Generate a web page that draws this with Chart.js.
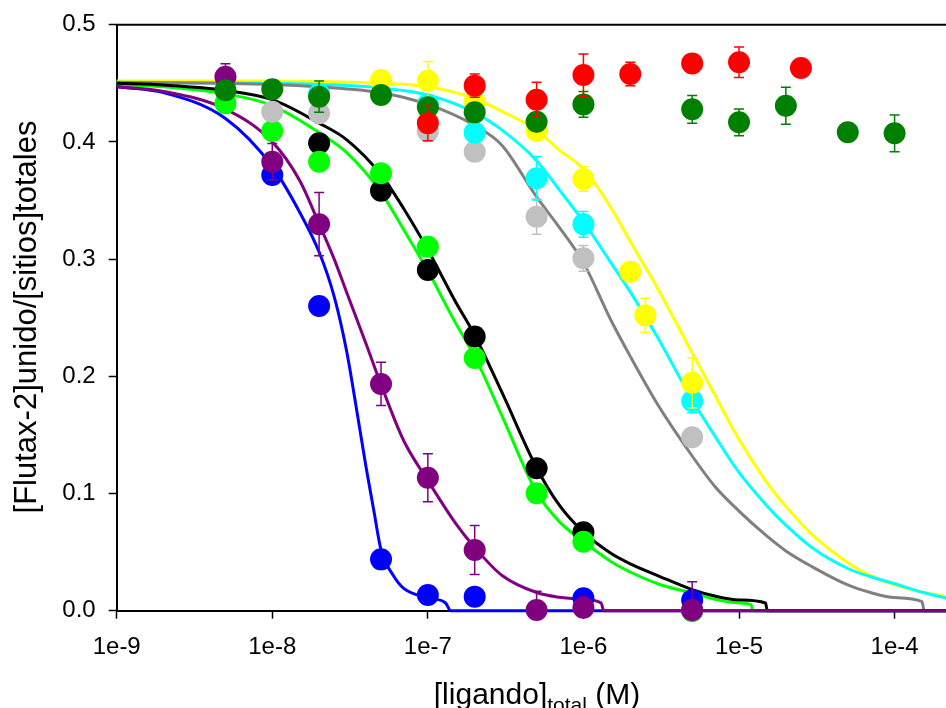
<!DOCTYPE html>
<html><head><meta charset="utf-8">
<script src="https://cdn.jsdelivr.net/npm/chart.js@4.4.0/dist/chart.umd.min.js"></script>
<style>html,body{margin:0;padding:0;background:#fff;overflow:hidden}#wrap{width:946px;height:708px;position:relative}</style>
</head><body><div id="wrap"><canvas id="c" width="946" height="708"></canvas></div>
<script>
// ---- tick labels ----
const xTickValues = [1e-9, 1e-8, 1e-7, 1e-6, 1e-5, 1e-4];
const xTickLabels = ['1e-9', '1e-8', '1e-7', '1e-6', '1e-5', '1e-4'];
const yTickValues = [0, 0.1, 0.2, 0.3, 0.4, 0.5];
const yTickLabels = ['0.0', '0.1', '0.2', '0.3', '0.4', '0.5'];
const yTitle = '[Flutax-2]unido/[sitios]totales';
const xTitleMain = '[ligando]';
const xTitleSub = 'total';
const xTitleEnd = ' (M)';

// ---- measured points ----
const redX = [1e-7, 2e-7, 5e-7, 1e-6, 2e-6, 5e-6, 1e-5, 2.5e-5];
const redY = [0.416, 0.448, 0.436, 0.457, 0.458, 0.467, 0.468, 0.463];
const redErr = [0.015, 0.010, 0.015, 0.018, 0.010, 0.006, 0.013, 0.0];

const dkgreenX = [5e-9, 1e-8, 2e-8, 5e-8, 1e-7, 2e-7, 5e-7, 1e-6, 5e-6, 1e-5, 2e-5, 5e-5, 1e-4];
const dkgreenY = [0.444, 0.445, 0.4386, 0.440, 0.4295, 0.4252, 0.4172, 0.432, 0.4278, 0.4167, 0.4309, 0.4082, 0.4073];
const dkgreenErr = [0.004, 0.004, 0.0134, 0.004, 0.007, 0.004, 0.005, 0.011, 0.0118, 0.0114, 0.0158, 0.0, 0.0156];

const silverX = [1e-8, 2e-8, 1e-7, 2e-7, 5e-7, 1e-6, 5e-6];
const silverY = [0.4258, 0.4244, 0.409, 0.3916, 0.3362, 0.3007, 0.148];
const silverErr = [0.005, 0.008, 0.008, 0.005, 0.015, 0.011, 0.0];

const cyanX = [2e-8, 1e-7, 2e-7, 5e-7, 1e-6, 5e-6];
const cyanY = [0.441, 0.432, 0.4079, 0.369, 0.3297, 0.1789];
const cyanErr = [0.004, 0.004, 0.008, 0.0185, 0.011, 0.010];

const yellowX = [5e-8, 1e-7, 2e-7, 5e-7, 1e-6, 2e-6, 2.5e-6, 5e-6];
const yellowY = [0.4528, 0.4522, 0.4343, 0.4093, 0.3683, 0.2893, 0.252, 0.1945];
const yellowErr = [0.0, 0.0165, 0.0, 0.0, 0.0105, 0.0, 0.0147, 0.0213];

const limeX = [5e-9, 1e-8, 2e-8, 5e-8, 1e-7, 2e-7, 5e-7, 1e-6, 5e-6];
const limeY = [0.433, 0.4093, 0.3831, 0.3732, 0.3106, 0.2156, 0.1002, 0.0589, 0.0];

const blackX = [2e-8, 5e-8, 1e-7, 2e-7, 5e-7, 1e-6, 5e-6];
const blackY = [0.3988, 0.3584, 0.2907, 0.234, 0.1215, 0.067, 0.0];

const purpleX = [5e-9, 1e-8, 2e-8, 5e-8, 1e-7, 2e-7, 5e-7, 1e-6, 5e-6];
const purpleY = [0.4556, 0.3831, 0.3298, 0.1935, 0.1135, 0.0518, 0.0006, 0.0026, 0.0006];
const purpleErr = [0.011, 0.0156, 0.027, 0.0185, 0.0205, 0.021, 0.016, 0.009, 0.024];

const blueX = [1e-8, 2e-8, 5e-8, 1e-7, 2e-7, 1e-6, 5e-6];
const blueY = [0.3718, 0.26, 0.0438, 0.0134, 0.012, 0.0106, 0.009];

// ---- fitted curves ----
const blueCurveX = [1e-9, 2e-9, 5e-9, 1e-8, 1.5e-8, 2e-8, 2.5e-8, 3e-8, 3.5e-8, 4e-8, 4.5e-8, 5e-8, 6e-8, 7e-8, 1e-7, 1.3e-7, 1.4e-7, 2.2e-4];
const blueCurveY = [0.447, 0.442, 0.420, 0.379, 0.340, 0.306, 0.268, 0.222, 0.170, 0.123, 0.085, 0.052, 0.030, 0.019, 0.011, 0.0066, 0, 0];

const purpleCurveX = [1e-9, 2e-9, 5e-9, 1e-8, 1.5e-8, 2e-8, 2.5e-8, 3e-8, 4e-8, 5e-8, 7e-8, 1e-7, 1.5e-7, 2e-7, 3e-7, 5e-7, 7e-7, 1e-6, 1.3e-6, 1.35e-6, 2.2e-4];
const purpleCurveY = [0.447, 0.443, 0.428, 0.400, 0.367, 0.330, 0.300, 0.272, 0.228, 0.193, 0.145, 0.111, 0.075, 0.054, 0.030, 0.0155, 0.0115, 0.0097, 0.0065, 0, 0];

const blackCurveX = [1e-9, 2e-9, 5e-9, 1e-8, 2e-8, 3e-8, 5e-8, 7e-8, 1e-7, 1.5e-7, 2e-7, 3e-7, 5e-7, 7e-7, 1e-6, 1.5e-6, 2e-6, 3e-6, 5e-6, 7e-6, 1e-5, 1.48e-5, 1.52e-5, 2.2e-4];
const blackCurveY = [0.450, 0.4485, 0.444, 0.436, 0.416, 0.402, 0.372, 0.343, 0.308, 0.264, 0.235, 0.186, 0.122, 0.090, 0.067, 0.049, 0.040, 0.030, 0.018, 0.0125, 0.0092, 0.0066, 0, 0];

const limeCurveX = [1e-9, 2e-9, 5e-9, 1e-8, 2e-8, 3e-8, 5e-8, 7e-8, 1e-7, 1.5e-7, 2e-7, 3e-7, 5e-7, 7e-7, 1e-6, 1.5e-6, 2e-6, 3e-6, 5e-6, 7e-6, 1e-5, 1.2e-5, 1.22e-5, 2.2e-4];
const limeCurveY = [0.449, 0.447, 0.441, 0.431, 0.408, 0.391, 0.357, 0.325, 0.290, 0.246, 0.217, 0.166, 0.101, 0.076, 0.059, 0.042, 0.033, 0.023, 0.015, 0.0098, 0.0066, 0.005, 0, 0];

const grayCurveX = [1e-9, 1e-8, 2e-8, 5e-8, 1e-7, 2e-7, 3e-7, 5e-7, 7e-7, 1e-6, 1.5e-6, 2e-6, 3e-6, 5e-6, 7e-6, 1e-5, 1.5e-5, 2e-5, 3e-5, 5e-5, 7e-5, 1e-4, 1.5e-4, 1.55e-4, 2.2e-4];
const grayCurveY = [0.451, 0.449, 0.447, 0.442, 0.432, 0.414, 0.397, 0.353, 0.327, 0.297, 0.248, 0.217, 0.176, 0.132, 0.106, 0.085, 0.064, 0.051, 0.037, 0.022, 0.0155, 0.0112, 0.0078, 0, 0];

const cyanCurveX = [1e-9, 1e-8, 2e-8, 5e-8, 1e-7, 2e-7, 3e-7, 5e-7, 7e-7, 1e-6, 1.5e-6, 2e-6, 3e-6, 5e-6, 7e-6, 1e-5, 1.5e-5, 2e-5, 3e-5, 5e-5, 7e-5, 1e-4, 1.5e-4, 2.2e-4];
const cyanCurveY = [0.451, 0.450, 0.449, 0.446, 0.440, 0.425, 0.410, 0.384, 0.359, 0.332, 0.297, 0.272, 0.233, 0.180, 0.149, 0.118, 0.090, 0.073, 0.053, 0.036, 0.029, 0.023, 0.0158, 0.0105];

const yellowCurveX = [1e-9, 1e-8, 2e-8, 5e-8, 1e-7, 2e-7, 3e-7, 5e-7, 7e-7, 1e-6, 1.5e-6, 2e-6, 3e-6, 5e-6, 7e-6, 1e-5, 1.5e-5, 2e-5, 3e-5, 5e-5, 7e-5, 1e-4, 1.5e-4, 2.2e-4];
const yellowCurveY = [0.452, 0.452, 0.4515, 0.450, 0.447, 0.437, 0.426, 0.410, 0.393, 0.377, 0.344, 0.315, 0.275, 0.220, 0.184, 0.146, 0.110, 0.089, 0.064, 0.041, 0.030, 0.022, 0.016, 0.0118];

// ---- build datasets ----
const FONT = '"Liberation Sans", Arial, Helvetica, sans-serif';
function pts(xs, ys) { return xs.map((x, i) => ({ x: x, y: ys[i] })); }
function dots(label, xs, ys, errs, color, order) {
  return { label, data: pts(xs, ys), errors: errs || null, backgroundColor: color, borderColor: color,
    pointRadius: 11, pointBorderWidth: 0, pointHoverRadius: 11, showLine: false, order, clip: false };
}
function curve(label, xs, ys, color, order) {
  return { label, data: pts(xs, ys), borderColor: color, backgroundColor: color, borderWidth: 3,
    pointRadius: 0, pointHoverRadius: 0, showLine: true, cubicInterpolationMode: 'monotone', order, clip: false };
}

const datasets = [
  curve('yellowFit', yellowCurveX, yellowCurveY, '#FFFF00', 26),
  curve('cyanFit', cyanCurveX, cyanCurveY, '#00FFFF', 25),
  curve('grayFit', grayCurveX, grayCurveY, '#808080', 24),
  curve('limeFit', limeCurveX, limeCurveY, '#00FF00', 23),
  curve('blackFit', blackCurveX, blackCurveY, '#000000', 22),
  curve('blueFit', blueCurveX, blueCurveY, '#0000FF', 21),
  curve('purpleFit', purpleCurveX, purpleCurveY, '#800080', 20),
  dots('blue', blueX, blueY, null, '#0000FF', 9),
  dots('black', blackX, blackY, null, '#000000', 8),
  dots('lime', limeX, limeY, null, '#00FF00', 7),
  dots('silver', silverX, silverY, silverErr, '#C0C0C0', 6),
  dots('cyan', cyanX, cyanY, cyanErr, '#00FFFF', 5),
  dots('yellow', yellowX, yellowY, yellowErr, '#FFFF00', 4),
  dots('purple', purpleX, purpleY, purpleErr, '#800080', 3),
  dots('darkgreen', dkgreenX, dkgreenY, dkgreenErr, '#008000', 2),
  dots('red', redX, redY, redErr, '#FF0000', 1)
];

const errorBars = {
  id: 'errorBars',
  beforeDatasetDraw(chart, args) {
    const ds = chart.data.datasets[args.index];
    if (!ds.errors) return;
    const ctx = chart.ctx, xs = chart.scales.x, ys = chart.scales.y;
    ctx.save();
    ctx.strokeStyle = ds.borderColor;
    ctx.lineWidth = 1.5;
    ds.data.forEach((p, i) => {
      const e = ds.errors[i];
      if (!e) return;
      const px = xs.getPixelForValue(p.x);
      const lowVal = p.y - e;
      const top = ys.getPixelForValue(p.y + e);
      const bot = ys.getPixelForValue(Math.max(lowVal, 0));
      ctx.beginPath();
      ctx.moveTo(px, top); ctx.lineTo(px, bot);
      ctx.moveTo(px - 5, top); ctx.lineTo(px + 5, top);
      if (lowVal >= 0) { ctx.moveTo(px - 5, bot); ctx.lineTo(px + 5, bot); }
      ctx.stroke();
    });
    ctx.restore();
  }
};

const frameAndTitles = {
  id: 'frameAndTitles',
  afterDraw(chart) {
    const ctx = chart.ctx, a = chart.chartArea;
    ctx.save();
    ctx.strokeStyle = '#000'; ctx.lineWidth = 2;
    ctx.beginPath(); ctx.moveTo(a.left - 1, a.top); ctx.lineTo(a.right, a.top); ctx.stroke();
    ctx.fillStyle = '#000';
    // y title
    ctx.save();
    ctx.translate(36, 317);
    ctx.rotate(-Math.PI / 2);
    ctx.font = '31px ' + FONT;
    ctx.textAlign = 'center'; ctx.textBaseline = 'alphabetic';
    ctx.fillText(yTitle, 0, 0);
    ctx.restore();
    // x title with subscript
    ctx.font = '30px ' + FONT;
    const w1 = ctx.measureText(xTitleMain).width;
    const w3 = ctx.measureText(xTitleEnd).width;
    ctx.font = '21px ' + FONT;
    const w2 = ctx.measureText(xTitleSub).width;
    const total = w1 + w2 + w3;
    let x0 = 537 - total / 2;
    const base = 704;
    ctx.textAlign = 'left'; ctx.textBaseline = 'alphabetic';
    ctx.font = '30px ' + FONT; ctx.fillText(xTitleMain, x0, base);
    ctx.font = '21px ' + FONT; ctx.fillText(xTitleSub, x0 + w1, base + 8);
    ctx.font = '30px ' + FONT; ctx.fillText(xTitleEnd, x0 + w1 + w2, base);
    ctx.restore();
  }
};

new Chart(document.getElementById('c'), {
  type: 'scatter',
  data: { datasets },
  options: {
    responsive: false, animation: false, devicePixelRatio: 1,
    layout: { autoPadding: false, padding: { top: 24.7, right: 0, left: 0, bottom: 0 } },
    plugins: { legend: { display: false }, tooltip: { enabled: false } },
    scales: {
      x: {
        type: 'logarithmic', position: 'bottom', min: 1e-9, max: 2.14e-4,
        afterBuildTicks(s) { s.ticks = xTickValues.map(v => ({ value: v })); },
        afterFit(s) { s.height = 97.3; s.paddingLeft = 0; s.paddingRight = 0; },
        ticks: { autoSkip: false, maxRotation: 0, padding: 14, color: '#000',
          font: { size: 24, family: FONT },
          callback(v) { const i = xTickValues.findIndex(t => Math.abs(t - v) / t < 1e-6); return i >= 0 ? xTickLabels[i] : ''; } },
        grid: { drawOnChartArea: false, drawTicks: true, tickLength: 8, tickColor: '#000', tickWidth: 1.5, color: '#000' },
        border: { display: true, color: '#000', width: 2 }
      },
      y: {
        type: 'linear', min: 0, max: 0.5,
        afterBuildTicks(s) { s.ticks = yTickValues.map(v => ({ value: v })); },
        afterFit(s) { s.width = 116.7; s.paddingTop = 0; s.paddingBottom = 0; },
        ticks: { padding: 13, color: '#000', font: { size: 24, family: FONT },
          callback(v) { const i = yTickValues.findIndex(t => Math.abs(t - v) < 1e-9); return i >= 0 ? yTickLabels[i] : ''; } },
        grid: { drawOnChartArea: false, drawTicks: true, tickLength: 8, tickColor: '#000', tickWidth: 1.5, color: '#000' },
        border: { display: true, color: '#000', width: 2 }
      }
    }
  },
  plugins: [errorBars, frameAndTitles]
});
</script>
</body></html>
